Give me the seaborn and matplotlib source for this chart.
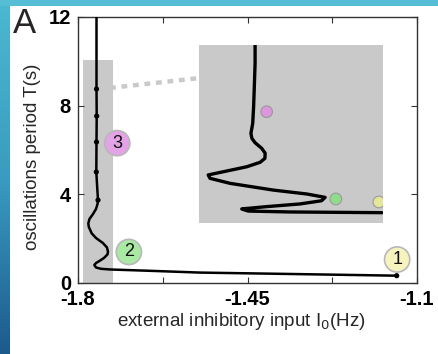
import numpy as np
import pandas as pd
import matplotlib
matplotlib.use("Agg")
import matplotlib.pyplot as plt
from matplotlib.patches import Rectangle
import seaborn as sns

# ---------------- data ----------------
main_I = [-1.7618, -1.7618, -1.7618, -1.7614, -1.7618, -1.7622, -1.7604, -1.7587,
          -1.7597, -1.7628, -1.7690, -1.7763, -1.7787, -1.7777, -1.7717, -1.7628,
          -1.7484, -1.7401, -1.7381, -1.7391, -1.7463, -1.7546, -1.7628, -1.7663,
          -1.7628, -1.7525, -1.7339, -1.6513, -1.5481, -1.3416, -1.1419]
main_T = [12.0, 10.06, 8.75, 7.53, 6.36, 5.01, 4.33, 3.74,
          3.56, 3.34, 3.11, 2.89, 2.69, 2.53, 2.24, 2.03,
          1.80, 1.60, 1.41, 1.29, 1.13, 1.01, 0.90, 0.81,
          0.70, 0.64, 0.61, 0.55, 0.47, 0.40, 0.33]

dot_I = [-1.7618, -1.7614, -1.7618, -1.7622, -1.7587, -1.1419]
dot_T = [8.75, 7.53, 6.36, 5.01, 3.74, 0.33]

inset_I = [-1.7711, -1.7711, -1.7714, -1.7716, -1.7719, -1.7725, -1.7722, -1.7711,
           -1.7689, -1.7677, -1.7678, -1.7694, -1.7739, -1.7818, -1.7869, -1.7863,
           -1.7796, -1.7650, -1.7537, -1.7475, -1.7487, -1.7560, -1.7672, -1.7756,
           -1.7734, -1.7593, -1.7284]
inset_T = [10.0, 8.97, 7.47, 6.53, 5.60, 5.04, 4.76, 4.51,
           4.20, 3.92, 3.63, 3.41, 3.16, 2.88, 2.70, 2.51,
           2.23, 1.85, 1.63, 1.44, 1.25, 1.07, 0.92, 0.79,
           0.67, 0.62, 0.58]

state_labels = ["3", "2", "1"]
state_I = [-1.719, -1.695, -1.141]
state_T = [6.31, 1.40, 1.06]
state_colors = ["#e3a3e6", "#a9e9a3", "#f6f3bf"]

inset_dot_I = [-1.7672, -1.7439, -1.7294]
inset_dot_T = [6.25, 1.35, 1.18]
inset_dot_colors = ["#dc96dc", "#8fdc8c", "#e6e69a"]

x_ticks = [-1.8, -1.625, -1.45, -1.275, -1.1]
x_ticklabels = ["-1.8", "", "-1.45", "", "-1.1"]
y_ticks = [0, 4, 8, 12]
y_ticklabels = ["0", "4", "8", "12"]

box_I = (-1.789, -1.7284)
box_T = (0, 10.06)
link_I = [-1.7339, -1.5481]
link_T = [8.80, 9.25]

# ---------------- style ----------------
sns.set_style("ticks")
plt.rcParams['font.family'] = ['Liberation Sans', 'DejaVu Sans']
plt.rcParams['axes.unicode_minus'] = False

W, H = 438, 354
fig = plt.figure(figsize=(W / 100, H / 100), dpi=100)
fig.patch.set_facecolor("white")

# decorative slide border (blue gradient strip left, teal strip top)
axl = fig.add_axes([0, 0, 10 / W, 1])
grad = np.linspace(0, 1, 256).reshape(-1, 1)
cmap = matplotlib.colors.LinearSegmentedColormap.from_list("b", ["#4cb8d0", "#3a9cc0", "#1d5a8c"])
axl.imshow(grad, aspect="auto", cmap=cmap, extent=[0, 1, 0, 1], origin="upper")
axl.axis("off")
axt = fig.add_axes([0, 1 - 6 / H, 1, 6 / H])
axt.set_facecolor("#55bdd4")
axt.set_xticks([]); axt.set_yticks([])
for s in axt.spines.values():
    s.set_visible(False)

# main axes
ax = fig.add_axes([78 / W, 1 - 283 / H, 339 / W, 266 / H])
ax.set_xlim(-1.8, -1.1)
ax.set_ylim(0, 12)

ax.add_patch(Rectangle((box_I[0], box_T[0]), box_I[1] - box_I[0], box_T[1] - box_T[0],
                       facecolor="#c9c9c9", edgecolor="none", zorder=0))

df_main = pd.DataFrame({"I": main_I, "T": main_T})
sns.lineplot(data=df_main, x="I", y="T", sort=False, estimator=None, errorbar=None,
             ax=ax, color="black", lw=1.8, zorder=3)
df_dot = pd.DataFrame({"I": dot_I, "T": dot_T})
sns.scatterplot(data=df_dot, x="I", y="T", ax=ax, color="black", s=14, edgecolor="none", zorder=4)

df_link = pd.DataFrame({"I": link_I, "T": link_T})
sns.lineplot(data=df_link, x="I", y="T", sort=False, estimator=None, errorbar=None,
             ax=ax, color="#c9c9c9", lw=3.2, linestyle=(0, (1.3, 1.3)), zorder=1)

df_state = pd.DataFrame({"I": state_I, "T": state_T, "lab": state_labels})
sns.scatterplot(data=df_state, x="I", y="T", hue="lab", palette=dict(zip(state_labels, state_colors)),
                s=330, edgecolor="#b8b8b8", linewidth=1.2, legend=False, ax=ax, zorder=5)
for lab, xi, ti in zip(state_labels, state_I, state_T):
    ax.text(xi, ti, lab, ha="center", va="center", fontsize=13, color="#111111", zorder=6)

ax.set_xticks(x_ticks)
ax.set_xticklabels(x_ticklabels, fontsize=14.5, fontweight="bold")
ax.set_yticks(y_ticks)
ax.set_yticklabels(y_ticklabels, fontsize=14.5, fontweight="bold")
ax.tick_params(direction="in", length=4, width=0.8, top=True, right=True, pad=5, colors="#333333",
               labelcolor="black")
for s in ax.spines.values():
    s.set_color("#333333")
    s.set_linewidth(1.0)

ax.set_xlabel("external inhibitory input I$_0$(Hz)", fontsize=13.5)
ax.set_ylabel("oscillations period T(s)", fontsize=13.5)
ax.xaxis.set_label_coords(0.481, -0.105)
ax.yaxis.set_label_coords(-0.108, 0.474)

# inset
axi = fig.add_axes([199 / W, 1 - 223 / H, 184 / W, 178 / H])
axi.set_facecolor("#c9c9c9")
axi.set_xlim(-1.79, -1.728)
axi.set_ylim(0, 10)
df_in = pd.DataFrame({"I": inset_I, "T": inset_T})
sns.lineplot(data=df_in, x="I", y="T", sort=False, estimator=None, errorbar=None,
             ax=axi, color="black", lw=2.4, zorder=3)
df_indot = pd.DataFrame({"I": inset_dot_I, "T": inset_dot_T, "lab": state_labels})
sns.scatterplot(data=df_indot, x="I", y="T", hue="lab", palette=dict(zip(state_labels, inset_dot_colors)),
                s=70, edgecolor="#9a9a9a", linewidth=0.8, legend=False, ax=axi, zorder=5)
axi.set_xticks([]); axi.set_yticks([])
axi.set_xlabel(""); axi.set_ylabel("")
for s in axi.spines.values():
    s.set_visible(False)

fig.text(13 / W, 1 - 33 / H, "A", fontsize=25, ha="left", va="baseline")

fig.savefig("out.png", dpi=100)
